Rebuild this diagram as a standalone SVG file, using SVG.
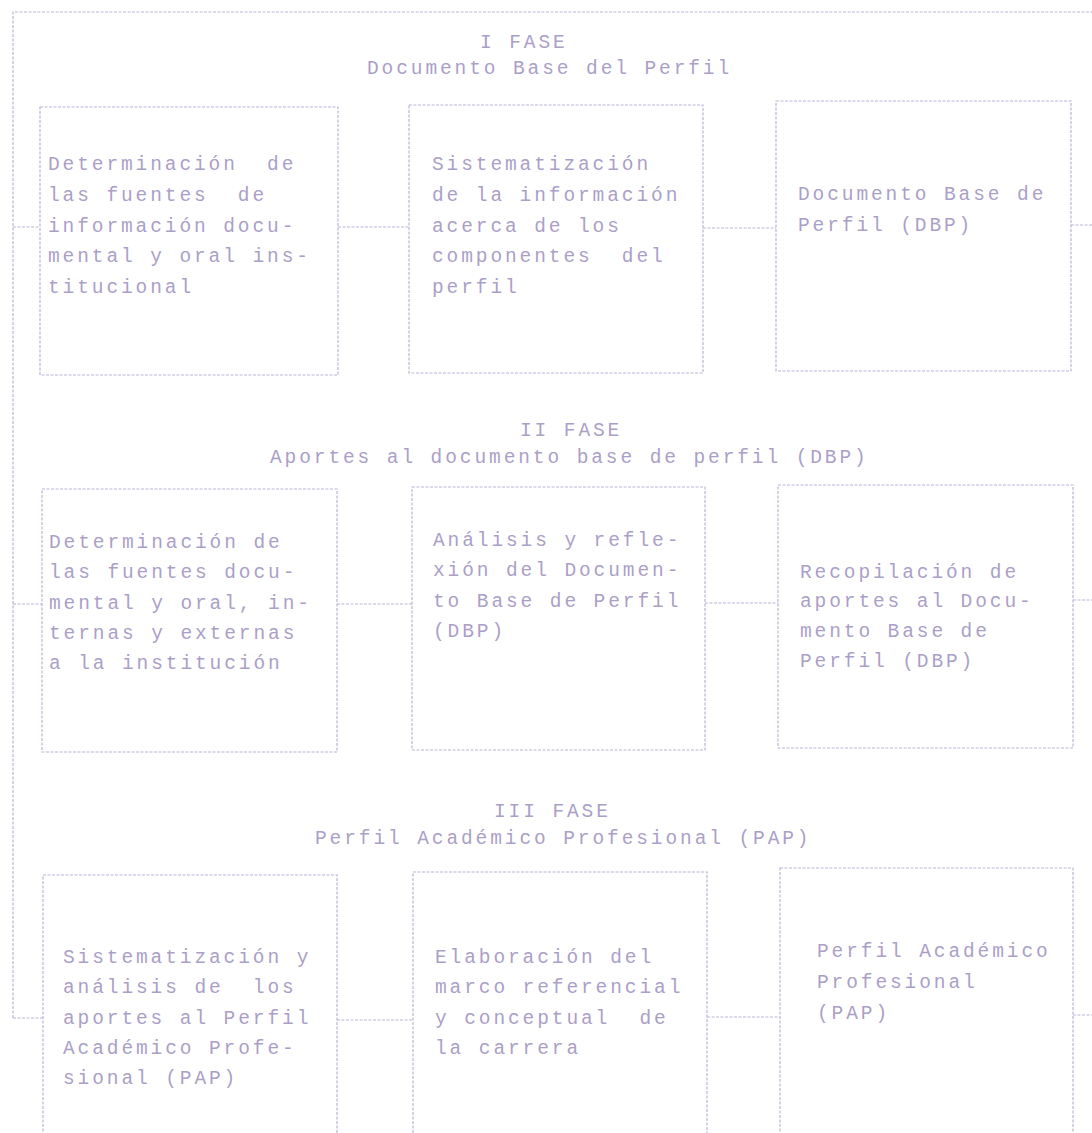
<svg xmlns="http://www.w3.org/2000/svg" width="1092" height="1133" viewBox="0 0 1092 1133">
<style>
.t{font-family:"Liberation Mono","DejaVu Sans Mono",monospace;font-size:19.5px;letter-spacing:2.9px;fill:#ab9fc8;white-space:pre}
.b{fill:none;stroke:#bcb2d5;stroke-width:1.2;stroke-dasharray:3 1.5}
.c{fill:none;stroke:#bcb2d5;stroke-width:1.2;stroke-dasharray:3 1.5}
</style>
<rect width="1092" height="1133" fill="#ffffff"/>
<g id="titles">
<text class="t" x="480" y="48">I FASE</text>
<text class="t" x="367" y="74">Documento Base del Perfil</text>
<text class="t" x="520" y="436">II FASE</text>
<text class="t" x="270" y="463">Aportes al documento base de perfil (DBP)</text>
<text class="t" x="494" y="817">III FASE</text>
<text class="t" x="315" y="844">Perfil Académico Profesional (PAP)</text>
</g>
<g id="connectors">
<path class="c" d="M13,1018 L13,12 L1092,12"/>
<path class="c" d="M13,1018 L43,1018"/>
<path class="c" d="M13,227 L40,227"/>
<path class="c" d="M338,227 L409,227"/>
<path class="c" d="M703,228 L776,228"/>
<path class="c" d="M1071,225 L1092,225"/>
<path class="c" d="M13,604 L42,604"/>
<path class="c" d="M337,604 L412,604"/>
<path class="c" d="M705,603 L778,603"/>
<path class="c" d="M1073,600 L1092,600"/>
<path class="c" d="M337,1020 L413,1020"/>
<path class="c" d="M707,1017 L780,1017"/>
<path class="c" d="M1073,1015 L1092,1015"/>
</g>
<g id="n1">
<rect class="b" x="40" y="107" width="298" height="268"/>
<text class="t"><tspan x="48" y="170">Determinación  de</tspan><tspan x="48" y="201">las fuentes  de</tspan><tspan x="48" y="232">información docu-</tspan><tspan x="48" y="262">mental y oral ins-</tspan><tspan x="48" y="293">titucional</tspan></text>
</g>
<g id="n2">
<rect class="b" x="409" y="105" width="294" height="268"/>
<text class="t"><tspan x="432" y="170">Sistematización</tspan><tspan x="432" y="201">de la información</tspan><tspan x="432" y="232">acerca de los</tspan><tspan x="432" y="262">componentes  del</tspan><tspan x="432" y="293">perfil</tspan></text>
</g>
<g id="n3">
<rect class="b" x="776" y="101" width="295" height="270"/>
<text class="t"><tspan x="798" y="200">Documento Base de</tspan><tspan x="798" y="231">Perfil (DBP)</tspan></text>
</g>
<g id="n4">
<rect class="b" x="42" y="489" width="295" height="263"/>
<text class="t"><tspan x="49" y="548">Determinación de</tspan><tspan x="49" y="578">las fuentes docu-</tspan><tspan x="49" y="609">mental y oral, in-</tspan><tspan x="49" y="639">ternas y externas</tspan><tspan x="49" y="669">a la institución</tspan></text>
</g>
<g id="n5">
<rect class="b" x="412" y="487" width="293" height="263"/>
<text class="t"><tspan x="433" y="546">Análisis y refle-</tspan><tspan x="433" y="576">xión del Documen-</tspan><tspan x="433" y="607">to Base de Perfil</tspan><tspan x="433" y="637">(DBP)</tspan></text>
</g>
<g id="n6">
<rect class="b" x="778" y="485" width="295" height="263"/>
<text class="t"><tspan x="800" y="578">Recopilación de</tspan><tspan x="800" y="607">aportes al Docu-</tspan><tspan x="800" y="637">mento Base de</tspan><tspan x="800" y="667">Perfil (DBP)</tspan></text>
</g>
<g id="n7">
<rect class="b" x="43" y="875" width="294" height="300"/>
<text class="t"><tspan x="63" y="963">Sistematización y</tspan><tspan x="63" y="993">análisis de  los</tspan><tspan x="63" y="1024">aportes al Perfil</tspan><tspan x="63" y="1054">Académico Profe-</tspan><tspan x="63" y="1084">sional (PAP)</tspan></text>
</g>
<g id="n8">
<rect class="b" x="413" y="872" width="294" height="300"/>
<text class="t"><tspan x="435" y="963">Elaboración del</tspan><tspan x="435" y="993">marco referencial</tspan><tspan x="435" y="1024">y conceptual  de</tspan><tspan x="435" y="1054">la carrera</tspan></text>
</g>
<g id="n9">
<rect class="b" x="780" y="868" width="293" height="300"/>
<text class="t"><tspan x="817" y="957">Perfil Académico</tspan><tspan x="817" y="988">Profesional</tspan><tspan x="817" y="1019">(PAP)</tspan></text>
</g>
</svg>
